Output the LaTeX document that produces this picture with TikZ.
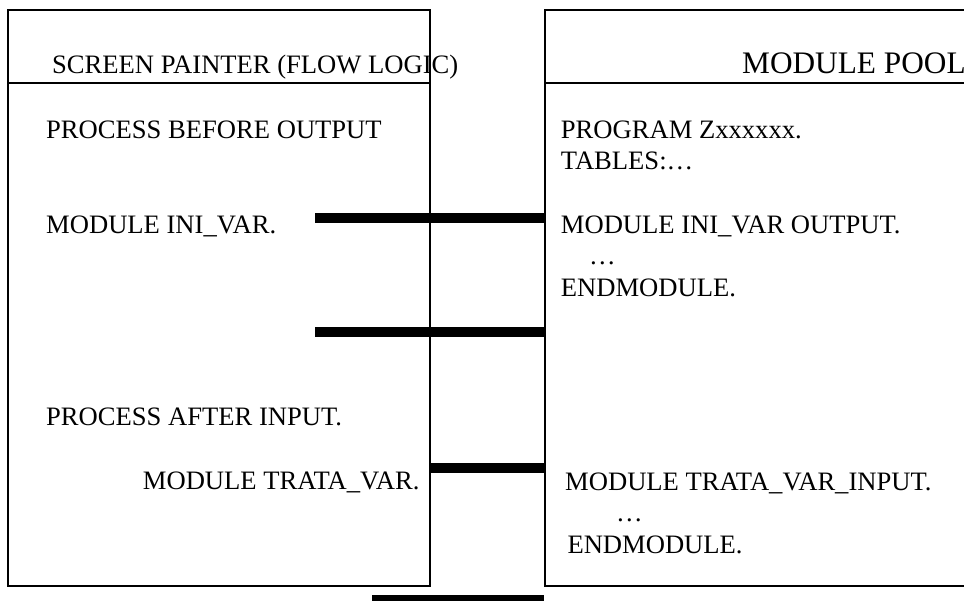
\documentclass[tikz,border=0pt]{standalone}
\usepackage{fontspec}
\setmainfont{Liberation Serif}
\begin{document}
\begin{tikzpicture}[x=1pt,y=-1pt,
  panel/.style={draw=black,line width=1.5pt,rectangle,inner sep=0pt},
  divider/.style={draw=black,line width=1.5pt},
  bar/.style={draw=black,line width=10pt},
  txt/.style={anchor=base west,inner sep=0pt,font=\fontsize{26.6}{30}\selectfont},
  head/.style={anchor=base west,inner sep=0pt,font=\fontsize{31.3}{37}\selectfont}]
\useasboundingbox (0,0) rectangle (964,601);
\clip (0,0) rectangle (964,601);
% panels
\node[panel,minimum width=422pt,minimum height=576pt] (lbox) at (219,298) {};
\node[panel,minimum width=430pt,minimum height=576pt] (rbox) at (760,298) {};
\draw[divider] (lbox.west |- 0,83) -- (lbox.east |- 0,83);
\draw[divider] (rbox.west |- 0,83) -- (rbox.east |- 0,83);
% headers
\node[txt] (lhead) at (52,74) {SCREEN PAINTER (FLOW LOGIC)};
\node[head] (rhead) at (742,74) {MODULE POOL};
% left texts
\node[txt] (pbo) at (46,138.3) {PROCESS BEFORE OUTPUT};
\node[txt] (miv) at (46,234) {MODULE INI\_VAR.};
\node[txt] (pai) at (46,425) {PROCESS AFTER INPUT.};
\node[txt] (mtv) at (142.7,489.3) {MODULE TRATA\_VAR.};
% right texts
\node[txt] (prog) at (560.7,138.3) {PROGRAM Zxxxxxx.};
\node[txt] (tabs) at (560.7,170) {TABLES:…};
\node[txt] (mivo) at (560.7,234) {MODULE INI\_VAR OUTPUT.};
\node[txt] (dots1) at (589,265) {…};
\node[txt] (end1) at (560.7,296.7) {ENDMODULE.};
\node[txt] (mtvi) at (565,490) {MODULE TRATA\_VAR\_INPUT.};
\node[txt] (dots2) at (616,521.7) {…};
\node[txt] (end2) at (567.3,553.3) {ENDMODULE.};
% bar start points
\coordinate (b1) at (315,217.7);
\coordinate (b2) at (315,332.5);
\coordinate (b3) at (430,467.7);
\coordinate (b4) at (372,600);
\draw[bar] (b1) -- (b1 -| rbox.west);
\draw[bar] (b2) -- (b2 -| rbox.west);
\draw[bar] (b3) -- (b3 -| rbox.west);
\draw[bar] (b4) -- (b4 -| rbox.west);
\end{tikzpicture}
\end{document}
